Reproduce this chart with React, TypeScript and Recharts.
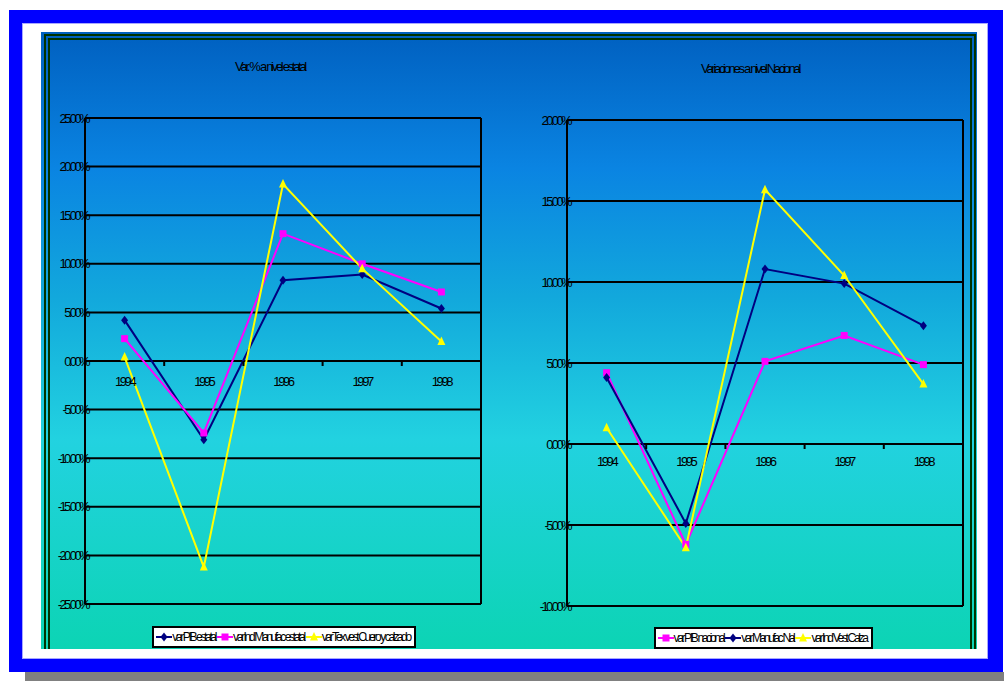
import type { CSSProperties, ReactElement } from 'react'
import { LineChart, Line, XAxis, YAxis, CartesianGrid } from 'recharts'

// ── Datos (variación % anual) ────────────────────────────────────────────────
const YEARS = ['1994', '1995', '1996', '1997', '1998']

// Nivel estatal
const PIB_ESTATAL = [4.2, -8.1, 8.3, 8.9, 5.4]
const MANUF_ESTATAL = [2.3, -7.4, 13.1, 10.0, 7.1]
const TEXTIL_ESTATAL = [0.4, -21.2, 18.2, 9.5, 2.0]

// Nivel nacional
const PIB_NACIONAL = [4.4, -6.2, 5.1, 6.7, 4.9]
const MANUF_NAL = [4.1, -4.9, 10.8, 9.9, 7.3]
const VEST_NAL = [1.0, -6.4, 15.7, 10.4, 3.7]

const TICKS_ESTATAL = [-25, -20, -15, -10, -5, 0, 5, 10, 15, 20, 25]
const TICKS_NACIONAL = [-10, -5, 0, 5, 10, 15, 20]

const NAVY = '#000080'
const MAGENTA = '#ff00ff'
const YELLOW = '#ffff00'
const FONT = '"Liberation Sans", Arial, sans-serif'

type Marker = 'diamond' | 'square' | 'triangle'
interface SeriesDef { key: string; name: string; color: string; marker: Marker; values: number[] }

const SERIES_ESTATAL: SeriesDef[] = [
  { key: 'pib', name: 'var PIB estatal', color: NAVY, marker: 'diamond', values: PIB_ESTATAL },
  { key: 'manuf', name: 'var Ind Manufac estatal', color: MAGENTA, marker: 'square', values: MANUF_ESTATAL },
  { key: 'textil', name: 'var Tex vest Cuero y calzado', color: YELLOW, marker: 'triangle', values: TEXTIL_ESTATAL },
]

const SERIES_NACIONAL: SeriesDef[] = [
  { key: 'pib', name: 'var PIB nacional', color: MAGENTA, marker: 'square', values: PIB_NACIONAL },
  { key: 'manuf', name: 'var Manufac Nal', color: NAVY, marker: 'diamond', values: MANUF_NAL },
  { key: 'vest', name: 'var Ind Vest Calza', color: YELLOW, marker: 'triangle', values: VEST_NAL },
]

function buildRows(series: SeriesDef[]) {
  return YEARS.map((year, i) => {
    const row: Record<string, string | number> = { year }
    series.forEach(s => { row[s.key] = s.values[i] })
    return row
  })
}

function markerPath(m: Marker, cx: number, cy: number) {
  if (m === 'diamond') return `M${cx},${cy - 4.5}L${cx + 3.5},${cy}L${cx},${cy + 4.5}L${cx - 3.5},${cy}Z`
  if (m === 'square') return `M${cx - 3.5},${cy - 3.5}h7v7h-7Z`
  return `M${cx},${cy - 5}L${cx + 4},${cy + 3.5}L${cx - 4},${cy + 3.5}Z`
}

function makeDot(m: Marker, color: string) {
  return (p: { cx?: number; cy?: number; index?: number }): ReactElement => (
    <path key={`d${p.index}`} d={markerPath(m, p.cx ?? 0, p.cy ?? 0)} fill={color} />
  )
}

// Etiquetas de categoría dibujadas junto a la línea del cero
function zeroTick(shift: number, band: number, labelDy: number) {
  return (p: { x: number; y: number; index: number; payload: { value: string } }): ReactElement => {
    const y0 = p.y - shift
    return (
      <g key={`t${p.index}`}>
        {p.index > 0 && (
          <line x1={p.x - band / 2} x2={p.x - band / 2} y1={y0} y2={y0 + 5} stroke="#000" strokeWidth={2} />
        )}
        <text x={p.x} y={y0 + labelDy} textAnchor="middle" fill="#000"
          style={{ fontFamily: FONT, fontSize: 13, letterSpacing: '-2.4px' }}>
          {p.payload.value}
        </text>
      </g>
    )
  }
}

interface PanelProps {
  left: number; top: number; width: number; height: number
  margin: { top: number; right: number; bottom: number; left: number }
  yWidth: number; domain: [number, number]; ticks: number[]
  series: SeriesDef[]; labelDy: number
}

const X_HEIGHT = 20

function VarChart({ left, top, width, height, margin, yWidth, domain, ticks, series, labelDy }: PanelProps) {
  const plotW = width - margin.left - margin.right - yWidth
  const plotH = height - margin.top - margin.bottom - X_HEIGHT
  const shift = plotH * (0 - domain[0]) / (domain[1] - domain[0])
  const band = plotW / YEARS.length
  return (
    <div style={{ position: 'absolute', left, top }}>
      <LineChart width={width} height={height} data={buildRows(series)} margin={margin}>
        <CartesianGrid stroke="#000" strokeWidth={2} fill="none"
          verticalCoordinatesGenerator={({ offset }: any) => [offset.left, offset.left + offset.width]} />
        <XAxis dataKey="year" height={X_HEIGHT} axisLine={false} tickLine={false}
          padding={{ left: band / 2, right: band / 2 }}
          tickSize={0} tickMargin={0} interval={0} tick={zeroTick(shift, band, labelDy) as any} />
        <YAxis width={yWidth} domain={domain} ticks={ticks} interval={0} allowDataOverflow
          axisLine={{ stroke: '#000', strokeWidth: 2 }} tickLine={false} tickSize={0} tickMargin={-3}
          tickFormatter={(v: number) => `${v.toFixed(2)}%`}
          tick={{ fill: '#000', fontSize: 13, fontFamily: FONT, letterSpacing: '-2.6px' } as any} />
        {series.map(s => (
          <Line key={s.key} type="linear" dataKey={s.key} name={s.name} stroke={s.color}
            strokeWidth={2} dot={makeDot(s.marker, s.color) as any} activeDot={false}
            isAnimationActive={false} />
        ))}
      </LineChart>
    </div>
  )
}

function LegendBox({ series, center, top }: { series: SeriesDef[]; center: number; top: number }) {
  return (
    <div style={{ position: 'absolute', left: center - 200, width: 400, top, display: 'flex', justifyContent: 'center' }}>
      <div style={st.legend}>
        {series.map(s => (
          <span key={s.key} style={st.legendItem}>
            <svg width={16} height={12} style={{ display: 'block' }}>
              <line x1={0} x2={16} y1={6} y2={6} stroke={s.color} strokeWidth={2} />
              <path d={markerPath(s.marker, 8, 6)} fill={s.color} />
            </svg>
            <span style={st.legendText}>{s.name}</span>
          </span>
        ))}
      </div>
    </div>
  )
}

export default function App() {
  return (
    <div style={st.page}>
      <div style={st.shadow} />
      <div style={st.frame} />
      <div style={st.panel} />
      <div style={st.rule1} />
      <div style={st.rule2} />

      <div style={{ ...st.title, left: 170, top: 58 }}>Var. % a nivel estatal</div>
      <div style={{ ...st.title, left: 650, top: 60 }}>Variaciones a nivel Nacional</div>

      <VarChart left={50} top={45} width={440} height={600}
        margin={{ top: 73, right: 9, bottom: 21, left: 0 }} yWidth={35}
        domain={[-25, 25]} ticks={TICKS_ESTATAL} series={SERIES_ESTATAL} labelDy={25} />
      <VarChart left={530} top={45} width={440} height={600}
        margin={{ top: 75, right: 7, bottom: 19, left: 0 }} yWidth={37}
        domain={[-10, 20]} ticks={TICKS_NACIONAL} series={SERIES_NACIONAL} labelDy={22} />

      <LegendBox series={SERIES_ESTATAL} center={284} top={626} />
      <LegendBox series={SERIES_NACIONAL} center={763} top={627} />
    </div>
  )
}

const st: Record<string, CSSProperties> = {
  page: {
    position: 'absolute', left: 0, top: 0, width: 1004, height: 681,
    background: '#ffffff', overflow: 'hidden', fontFamily: FONT,
  },
  shadow: { position: 'absolute', left: 25, top: 672, width: 979, height: 9, background: '#808080' },
  frame: {
    position: 'absolute', left: 9, top: 10, width: 994, height: 662, boxSizing: 'border-box',
    borderStyle: 'solid', borderColor: '#0000ff', borderWidth: '13px 15px 13px 13px',
    boxShadow: 'inset 0 0 0 1px #a8a8ff',
  },
  panel: {
    position: 'absolute', left: 41, top: 32, width: 936, height: 617,
    background: 'linear-gradient(to bottom, #0060c0 0%, #0a84e2 22%, #12a8dc 43%, #22d2e0 66%, #0cd4b4 100%)',
  },
  rule1: {
    position: 'absolute', left: 44, top: 34, width: 932, height: 615, boxSizing: 'border-box',
    borderStyle: 'solid', borderColor: '#003300', borderWidth: '2px 2px 0 2px',
  },
  rule2: {
    position: 'absolute', left: 48, top: 38, width: 924, height: 611, boxSizing: 'border-box',
    borderStyle: 'solid', borderColor: '#003300', borderWidth: '2px 2px 0 2px',
  },
  title: {
    position: 'absolute', width: 200, textAlign: 'center', fontSize: 13,
    letterSpacing: '-2.3px', color: '#000', lineHeight: '18px',
  },
  legend: {
    display: 'flex', alignItems: 'center', gap: 0, background: '#ffffff',
    border: '2px solid #000', padding: '2px 2px', height: 22, boxSizing: 'border-box',
  },
  legendItem: { display: 'flex', alignItems: 'center', gap: 0 },
  legendText: { fontSize: 12, letterSpacing: '-2.35px', color: '#000', whiteSpace: 'nowrap', paddingRight: 2 },
}
